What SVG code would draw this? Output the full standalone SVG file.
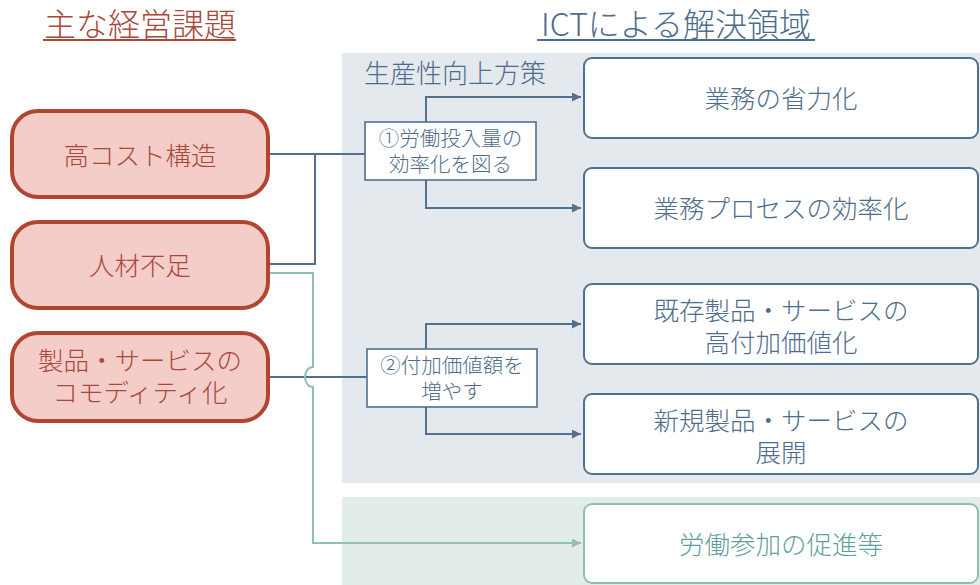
<svg xmlns="http://www.w3.org/2000/svg" width="980" height="585" viewBox="0 0 980 585">
<defs>
<style>
text{font-family:"Noto Sans CJK JP","Noto Sans",sans-serif;font-weight:300;dominant-baseline:central;text-anchor:middle}
.issue rect{fill:#f5cdc8;stroke:#b04632;stroke-width:4}
.issue text{fill:#a8483a;font-size:25.5px}
.sol rect{fill:#fff;stroke:#52708f;stroke-width:2}
.sol text{fill:#4e6c8c;font-size:25.5px}
.mid rect{fill:#fff;stroke:#52708f;stroke-width:1.6}
.mid text{fill:#4e6c8c;font-size:20.5px}
.g rect{fill:#fff;stroke:#8fc0b2;stroke-width:2}
.g text{fill:#5f9f9c;font-size:25.5px}
.b{fill:none;stroke:#52708f;stroke-width:2}
.gl{fill:none;stroke:#8fc0b2;stroke-width:2}
</style>
<marker id="ab" viewBox="0 0 10 10" refX="10" refY="5" markerWidth="4.5" markerHeight="4.5" orient="auto" markerUnits="strokeWidth"><path d="M0,0L10,5L0,10z" fill="#52708f"/></marker>
<marker id="ag" viewBox="0 0 10 10" refX="10" refY="5" markerWidth="4.5" markerHeight="4.5" orient="auto" markerUnits="strokeWidth"><path d="M0,0L10,5L0,10z" fill="#8fc0b2"/></marker>
</defs>
<rect width="980" height="585" fill="#fff"/>
<rect x="342" y="53" width="638" height="430" fill="#e4e9ee"/>
<rect x="342" y="497" width="638" height="88" fill="#e2ece8"/>
<g id="title-left"><text x="140" y="22" style="fill:#a8483a;font-size:32px">主な経営課題</text><line x1="43" y1="40" x2="236" y2="40" stroke="#a8483a" stroke-width="2"/></g>
<g id="title-right"><text x="676" y="22" style="fill:#4e6c8c;font-size:32px">ICTによる解決領域</text><line x1="537" y1="40" x2="815" y2="40" stroke="#4e6c8c" stroke-width="2"/></g>
<text id="panel-label" x="364" y="71" style="fill:#4e6c8c;font-size:26px;text-anchor:start">生産性向上方策</text>
<g id="connectors">
<path class="b" d="M270,154H365"/>
<path class="b" d="M270,264H315V154"/>
<path class="b" d="M426,122V97H581" marker-end="url(#ab)"/>
<path class="b" d="M426,180V208H581" marker-end="url(#ab)"/>
<path class="b" d="M270,377H367"/>
<path class="b" d="M426,349V324H581" marker-end="url(#ab)"/>
<path class="b" d="M426,407V434H581" marker-end="url(#ab)"/>
<path class="gl" d="M270,273H313V367A8,10 0 0 0 313,387V543H581" marker-end="url(#ag)"/>
</g>
<g id="issue1" class="issue"><rect x="12" y="111" width="256" height="86" rx="26"/><text x="140" y="153">高コスト構造</text></g>
<g id="issue2" class="issue"><rect x="12" y="222" width="256" height="86" rx="26"/><text x="140" y="263">人材不足</text></g>
<g id="issue3" class="issue"><rect x="12" y="333" width="256" height="88" rx="26"/><text x="140" y="358">製品・サービスの</text><text x="140" y="390">コモディティ化</text></g>
<g id="mid1" class="mid"><rect x="365" y="122" width="171" height="58"/><text x="450.5" y="137">①労働投入量の</text><text x="450.5" y="163">効率化を図る</text></g>
<g id="mid2" class="mid"><rect x="367" y="349" width="170" height="58"/><text x="452" y="364">②付加価値額を</text><text x="452" y="390">増やす</text></g>
<g id="sol1" class="sol"><rect x="584" y="58" width="394" height="80" rx="8"/><text x="781" y="96">業務の省力化</text></g>
<g id="sol2" class="sol"><rect x="584" y="168" width="394" height="80" rx="8"/><text x="781" y="206">業務プロセスの効率化</text></g>
<g id="sol3" class="sol"><rect x="584" y="284" width="394" height="80" rx="8"/><text x="781" y="308">既存製品・サービスの</text><text x="781" y="340">高付加価値化</text></g>
<g id="sol4" class="sol"><rect x="584" y="394" width="394" height="80" rx="8"/><text x="781" y="418">新規製品・サービスの</text><text x="781" y="450">展開</text></g>
<g id="sol5" class="g"><rect x="584" y="504" width="394" height="79" rx="8"/><text x="781" y="542">労働参加の促進等</text></g>
</svg>
